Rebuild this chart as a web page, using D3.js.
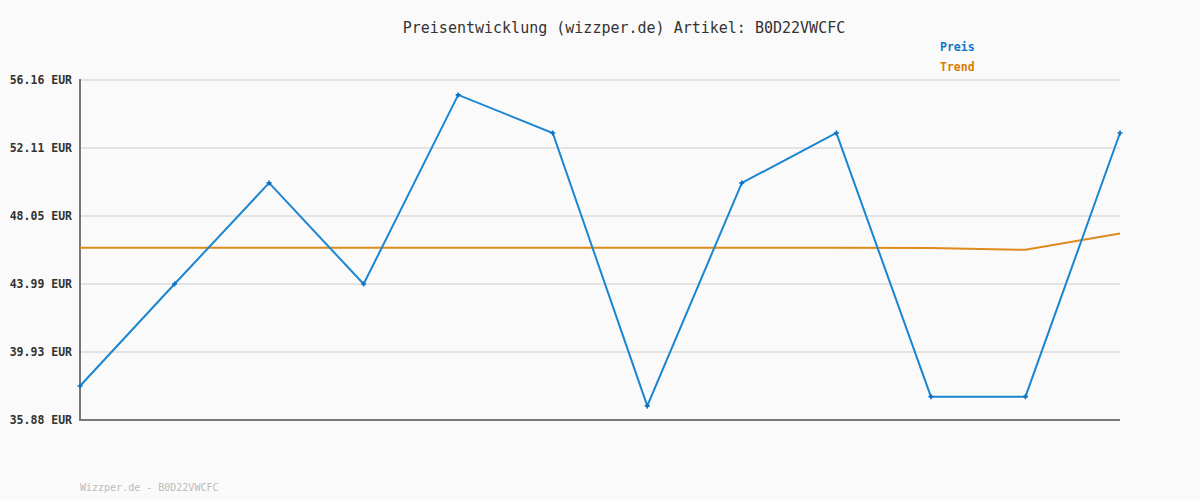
<!DOCTYPE html>
<html><head><meta charset="utf-8">
<script src="https://cdn.jsdelivr.net/npm/d3@7"></script>
<style>body{margin:0;background:#fafafa;}svg{display:block;}</style>
</head><body>
<svg id="c" width="1200" height="500"></svg>
<script>
const titleText = "Preisentwicklung (wizzper.de) Artikel: B0D22VWCFC";
const footerText = "Wizzper.de - B0D22VWCFC";
const indices = [0,1,2,3,4,5,6,7,8,9,10,11];
const preis = [37.91, 43.99, 50.02, 43.99, 55.27, 53.00, 36.72, 50.02, 53.00, 37.27, 37.27, 53.00];
const trend = [46.15, 46.15, 46.15, 46.15, 46.15, 46.15, 46.15, 46.15, 46.15, 46.14, 46.03, 47.00];
const yTicks = [35.88, 39.93, 43.99, 48.05, 52.11, 56.16];
const legendNames = ["Preis", "Trend"];
const colors = ["#1a85d0", "#e08a1e"];
const legendColors = ["#0d77c8", "#dd7a00"];

const svg = d3.select("#c");
const font = "'DejaVu Sans Mono', 'Liberation Mono', monospace";
svg.append("rect").attr("width",1200).attr("height",500).attr("fill","#fafafa");

const x = d3.scaleLinear().domain([0,11]).range([80,1120]);
const y = d3.scaleLinear().domain([35.88,56.16]).range([420,80]);

// grid
svg.append("g").selectAll("line").data(yTicks.slice(1)).join("line")
  .attr("x1",80).attr("x2",1120).attr("y1",d=>y(d)).attr("y2",d=>y(d))
  .attr("stroke","#e3e3e3").attr("stroke-width",2);

// y axis labels
const yAxis = d3.axisLeft(y).tickValues(yTicks).tickSize(0).tickPadding(8).tickFormat(d=>d.toFixed(2)+" EUR");
const ga = svg.append("g").attr("transform","translate(80,0)").call(yAxis);
ga.select(".domain").remove();
ga.selectAll("text").attr("font-family",font).attr("font-size","11.5px").attr("font-weight","bold").attr("fill","#333");

// axes lines
svg.append("line").attr("x1",80).attr("x2",80).attr("y1",79).attr("y2",421).attr("stroke","#777").attr("stroke-width",2);
svg.append("line").attr("x1",79).attr("x2",1120).attr("y1",420).attr("y2",420).attr("stroke","#777").attr("stroke-width",2);

const line = d3.line().x((d,i)=>x(indices[i])).y(d=>y(d));
svg.append("path").datum(trend).attr("d",line).attr("fill","none").attr("stroke",colors[1]).attr("stroke-width",2);
svg.append("path").datum(preis).attr("d",line).attr("fill","none").attr("stroke",colors[0]).attr("stroke-width",2);

// markers
const sym = d3.symbol().type(d3.symbolCross).size(14);
svg.append("g").selectAll("path").data(preis).join("path")
  .attr("d",sym).attr("transform",(d,i)=>`translate(${x(indices[i])},${y(d)})`).attr("fill","#0b6fbf");

// title
svg.append("text").attr("x",624).attr("y",33).attr("text-anchor","middle")
  .attr("font-family",font).attr("font-size","15px").attr("fill","#333").text(titleText);

// legend
svg.append("g").selectAll("text").data(legendNames).join("text")
  .attr("x",940).attr("y",(d,i)=>51+i*20).attr("font-family",font).attr("font-size","11.5px")
  .attr("font-weight","bold").attr("fill",(d,i)=>legendColors[i]).text(d=>d);

// footer
svg.append("text").attr("x",80).attr("y",491).attr("font-family",font).attr("font-size","10px")
  .attr("fill","#bbb").text(footerText);
</script>
</body></html>
